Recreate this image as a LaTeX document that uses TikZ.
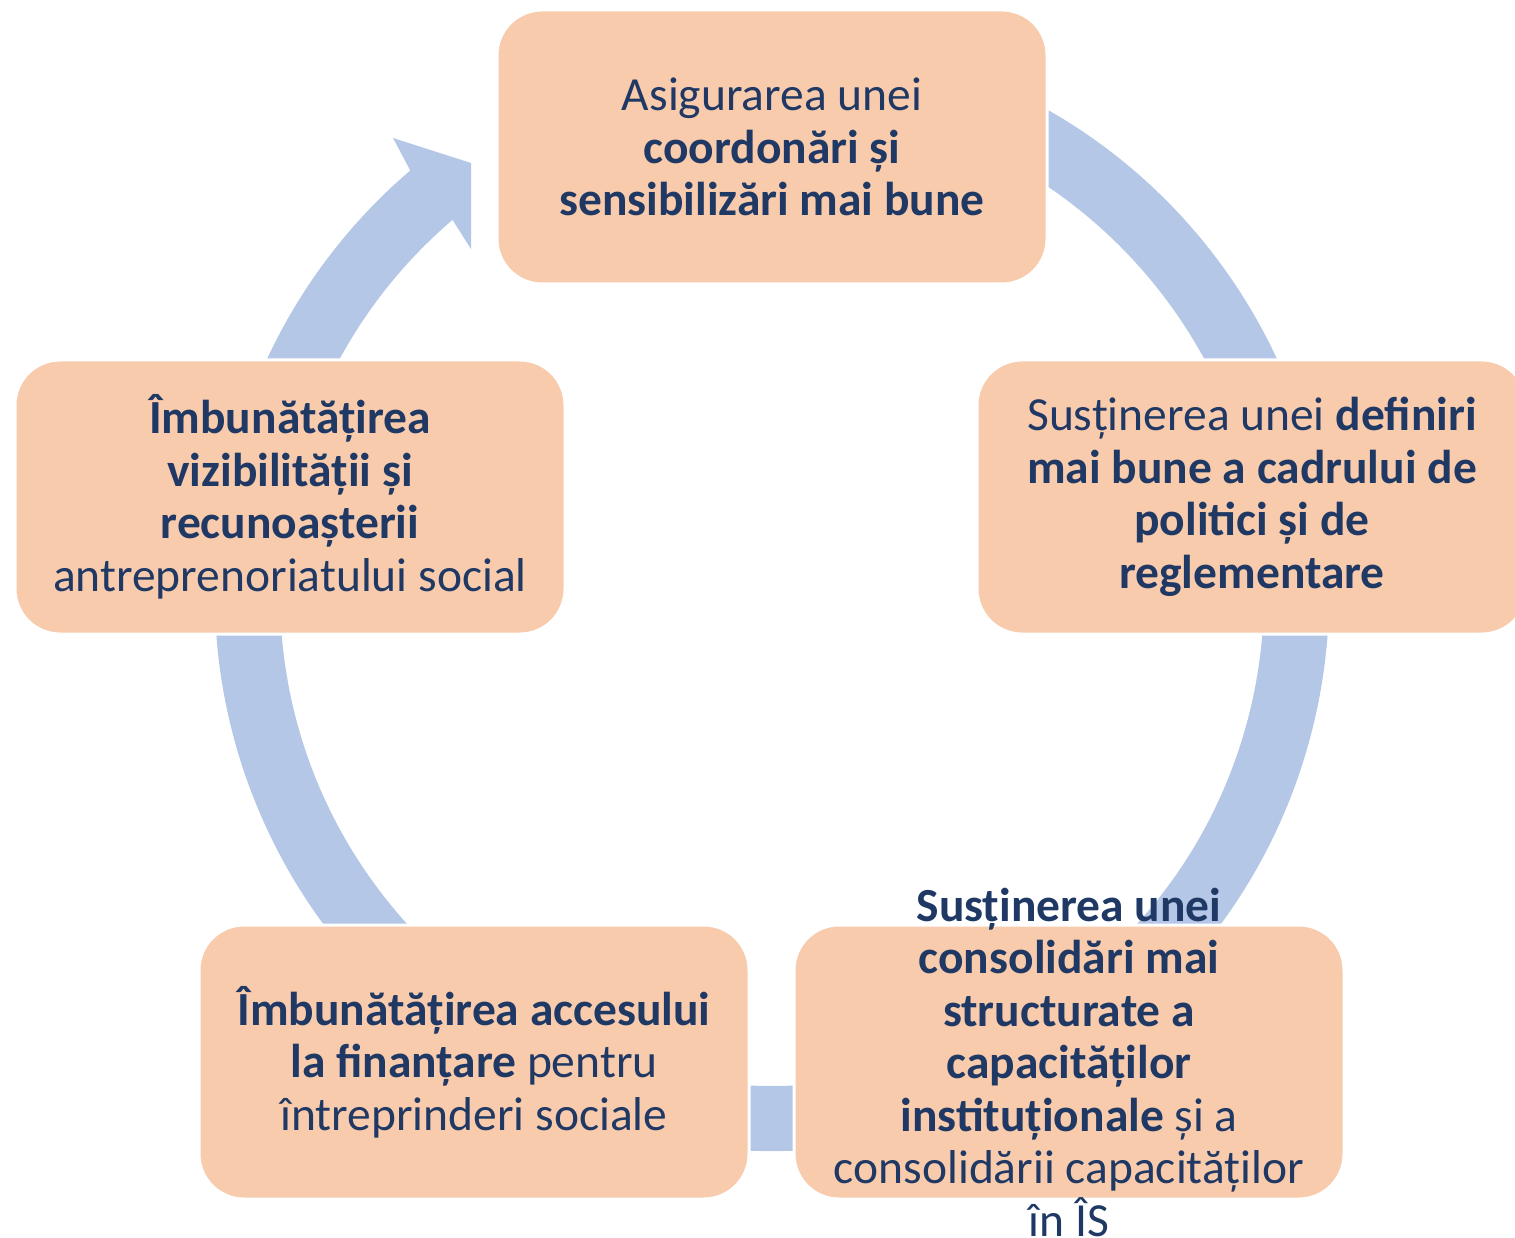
\documentclass[tikz,border=0pt]{standalone}
\usepackage{fontspec}
\setmainfont{Carlito}
\definecolor{boxfill}{HTML}{F8CBAD}
\definecolor{ringblue}{HTML}{B4C7E7}
\definecolor{navy}{HTML}{1F3864}

\begin{document}
\begin{tikzpicture}[x=1pt,y=1pt,
    stepbox/.style={draw=white, line width=3pt, fill=boxfill, rounded corners=45pt,
      minimum width=550pt, minimum height=274pt, inner sep=0pt},
    steptext/.style={align=center, text=navy, inner sep=0pt,
      font=\fontsize{47.5}{52.5}\selectfont}]

    \useasboundingbox (0,0) rectangle (1515,-1238);

    % ring
    \coordinate (O) at (772,-594);
    \path (O) ++(75:557) coordinate (outstart);
    \path (O) ++(130.5:492) coordinate (innend);
    \coordinate (barbout) at (393,-138);
    \coordinate (cuttop) at (471,-163);
    \coordinate (cutbot) at (471,-249);
    \fill[ringblue] (outstart) arc[start angle=75, end angle=-229.5, radius=557pt]
      -- (barbout) -- (cuttop) -- (cutbot) -- (innend)
      arc[start angle=-229.5, end angle=75, radius=492pt] -- cycle;

    % boxes
    \node[stepbox] (coord) at (772,-147) {};
    \node[stepbox] (policy) at (1252,-497) {};
    \node[stepbox] (capac) at (1069,-1062) {};
    \node[stepbox] (finance) at (474,-1062) {};
    \node[stepbox] (visib) at (290,-497) {};

    % texts
    \node[steptext] (coord-t) at (coord) {Asigurarea unei\\ \textbf{coordonări și}\\
      \textbf{sensibilizări mai bune}};
    \node[steptext] (policy-t) at (1252,-497) {Susținerea unei \textbf{definiri}\\
      \textbf{mai bune a cadrului de}\\ \textbf{politici și de}\\ \textbf{reglementare}};
    \node[steptext] (capac-t) at (capac) {\textbf{Susținerea unei}\\ \textbf{consolidări mai}\\
      \textbf{structurate a}\\ \textbf{capacităților}\\ \textbf{instituționale} și a\\
      consolidării capacităților\\ în ÎS};
    \node[steptext] (finance-t) at (finance) {\textbf{Îmbunătățirea accesului}\\
      \textbf{la finanțare} pentru\\ întreprinderi sociale};
    \node[steptext] (visib-t) at (visib) {\textbf{Îmbunătățirea}\\ \textbf{vizibilității și}\\
      \textbf{recunoașterii}\\ antreprenoriatului social};

\end{tikzpicture}
\end{document}
